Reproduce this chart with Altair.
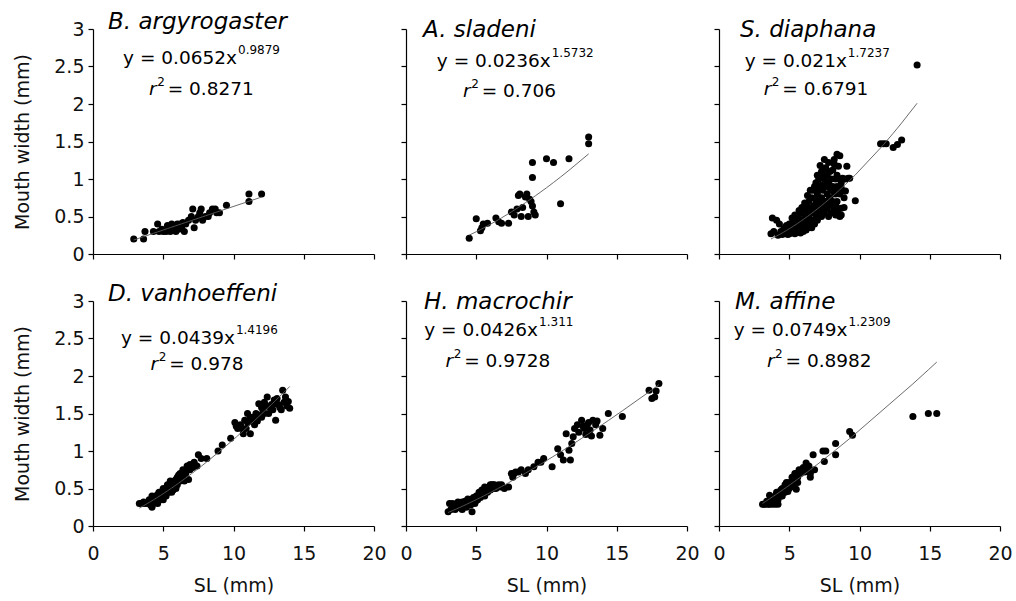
import altair as alt
import pandas as pd

# ---------------- data ----------------
SPECIES = ["B. argyrogaster", "A. sladeni", "S. diaphana",
           "D. vanhoeffeni", "H. macrochir", "M. affine"]
COEF_A = ["0.0652", "0.0236", "0.021", "0.0439", "0.0426", "0.0749"]
COEF_B = ["0.9879", "1.5732", "1.7237", "1.4196", "1.311", "1.2309"]
R2 = ["0.8271", "0.706", "0.6791", "0.978", "0.9728", "0.8982"]

X_TICKS = [0, 5, 10, 15, 20]
Y_TICKS = [0, 0.5, 1, 1.5, 2, 2.5, 3]

# (SL mm, mouth width mm)
PTS_ARGYRO = [(2.9,0.20),(3.6,0.20),(3.7,0.30),(4.3,0.30),(4.6,0.40),(4.7,0.30),(5.0,0.30),
              (5.2,0.30),(5.4,0.35),(5.5,0.30),(5.6,0.40),(5.8,0.35),(5.9,0.30),(6.0,0.40),
              (6.2,0.40),(6.3,0.35),(6.5,0.30),(6.6,0.40),(6.8,0.45),(7.0,0.50),(7.1,0.60),
              (7.2,0.35),(7.3,0.45),(7.5,0.50),(7.7,0.60),(7.8,0.45),(8.0,0.50),(8.2,0.50),
              (8.3,0.55),(8.5,0.60),(8.7,0.60),(8.8,0.55),(9.0,0.55),(9.5,0.65),(11.1,0.70),
              (11.1,0.80),(12.0,0.80),(4.9,0.33),(5.3,0.38),(6.1,0.33),(6.4,0.42),(7.6,0.55)]

PTS_SLADENI = [(4.5,0.21),(5.0,0.47),(5.3,0.31),(5.4,0.35),(5.5,0.40),(5.8,0.41),(6.4,0.48),
               (6.6,0.43),(6.8,0.41),(7.3,0.41),(7.5,0.56),(7.7,0.52),(7.9,0.60),(8.0,0.78),
               (8.1,0.80),(8.2,0.50),(8.3,0.62),(8.5,0.76),(8.6,0.80),(8.7,0.50),(8.8,0.73),
               (8.9,0.70),(9.0,0.64),(9.1,0.56),(9.0,1.02),(9.0,1.22),(9.2,0.52),(10.0,1.27),
               (10.5,1.22),(11.0,0.67),(11.6,1.27),(13.0,1.47),(13.0,1.56)]

PTS_DIAPHANA = [(3.7,0.27),(3.8,0.48),(3.9,0.30),(4.1,0.45),(4.2,0.25),(4.3,0.40),(4.4,0.30),
                (4.5,0.26),(4.6,0.28),(4.7,0.35),(4.8,0.30),(4.9,0.26),(5.0,0.32),(5.0,0.40),
                (5.1,0.28),(5.2,0.35),(5.3,0.42),(5.3,0.30),(5.4,0.38),(5.5,0.45),(5.5,0.30),
                (5.6,0.33),(5.6,0.50),(5.7,0.40),(5.8,0.35),(5.8,0.55),(5.9,0.45),(6.0,0.30),
                (6.0,0.60),(6.1,0.38),(6.1,0.50),(6.2,0.42),(6.2,0.65),(6.3,0.35),(6.3,0.55),
                (6.4,0.48),(6.4,0.70),(6.5,0.40),(6.5,0.60),(6.6,0.45),(6.6,0.75),(6.7,0.55),
                (6.7,0.85),(6.8,0.40),(6.8,0.65),(6.9,0.50),(6.9,0.95),(7.0,0.70),(7.0,0.45),
                (7.0,0.80),(7.1,0.60),(7.1,1.00),(7.2,0.55),(7.2,0.90),(7.3,0.50),(7.3,0.75),
                (7.3,1.10),(7.4,0.65),(7.4,0.85),(7.5,0.55),(7.5,1.00),(7.5,1.26),(7.5,1.13),
                (7.6,0.70),(7.6,0.90),(7.7,0.60),(7.7,0.80),(7.7,1.05),(7.8,0.50),(7.8,0.95),
                (7.9,0.65),(7.9,0.75),(7.9,1.10),(8.0,0.55),(8.0,0.85),(8.0,1.00),(8.1,0.70),
                (8.1,0.90),(8.2,0.60),(8.2,1.20),(8.2,1.26),(8.3,0.80),(8.3,1.00),(8.3,0.52),
                (8.4,0.70),(8.4,0.90),(8.4,1.33),(8.5,0.60),(8.5,1.17),(8.6,0.80),(8.6,1.00),
                (8.6,0.50),(8.6,1.31),(8.7,0.88),(8.7,0.52),(8.7,0.61),(8.8,1.01),(8.9,0.75),
                (9.0,0.84),(9.0,1.00),(9.1,1.17),(9.2,1.01),(9.3,1.01),(9.7,0.71),(11.5,1.47),
                (11.7,1.47),(11.9,1.47),(12.4,1.42),(12.7,1.46),(13.0,1.52),(14.1,2.52),
                (5.2,0.48),(5.4,0.52),(5.6,0.42),(5.7,0.58),(5.9,0.36),(5.9,0.62),(6.0,0.45),
                (6.1,0.68),(6.2,0.32),(6.3,0.78),(6.4,0.58),(6.5,0.85),(6.6,0.62),(6.7,0.40),
                (6.8,0.90),(6.9,0.72),(7.0,1.05),(7.0,0.58),(7.1,0.85),(7.2,0.68),(7.2,1.18),
                (7.3,0.92),(7.4,0.58),(7.4,1.05),(7.6,0.62),(7.6,1.15),(7.7,0.95),(7.8,0.72),
                (7.8,1.22),(7.9,0.88),(8.0,0.65),(8.1,1.12),(8.2,0.82),(8.3,0.65),(8.4,1.05),
                (8.5,0.85),(8.7,0.95),(8.9,0.62),(8.5,0.52),(4.8,0.38),(5.0,0.27),(4.6,0.33),
                (5.4,0.27),(5.8,0.28),(6.6,0.35)]

PTS_VANHOEF = [(3.3,0.30),(3.5,0.30),(3.7,0.30),(3.9,0.30),(4.0,0.35),(4.2,0.25),(4.2,0.40),
               (4.3,0.30),(4.4,0.35),(4.5,0.40),(4.6,0.30),(4.7,0.45),(4.8,0.35),(4.9,0.40),
               (5.0,0.50),(5.0,0.35),(5.1,0.45),(5.2,0.40),(5.3,0.55),(5.4,0.45),(5.5,0.50),
               (5.5,0.60),(5.6,0.45),(5.7,0.55),(5.8,0.60),(5.9,0.50),(6.0,0.65),(6.0,0.55),
               (6.1,0.60),(6.2,0.70),(6.3,0.65),(6.4,0.75),(6.5,0.60),(6.6,0.70),(6.7,0.80),
               (6.8,0.62),(6.9,0.75),(7.0,0.80),(7.2,0.85),(7.4,0.80),(7.5,0.95),(7.7,0.90),
               (8.1,0.90),(8.9,1.00),(9.2,1.08),(9.8,1.17),(10.1,1.38),(10.3,1.30),(10.5,1.35),
               (10.7,1.23),(10.8,1.41),(10.9,1.30),(11.0,1.50),(11.2,1.23),(11.3,1.40),
               (11.5,1.35),(11.6,1.50),(11.8,1.48),(11.8,1.63),(12.0,1.45),(12.1,1.55),
               (12.3,1.60),(12.4,1.72),(12.5,1.50),(12.7,1.62),(12.8,1.55),(13.0,1.63),
               (13.0,1.41),(13.1,1.70),(13.3,1.58),(13.5,1.81),(13.6,1.65),(13.9,1.66),(14.0,1.57),
               (3.6,0.32),(4.1,0.28),(4.5,0.33),(4.6,0.42),(4.8,0.45),(5.0,0.42),(5.2,0.50),
               (5.3,0.45),(5.6,0.55),(5.7,0.48),(5.9,0.62),(6.1,0.68),(6.2,0.60),(6.4,0.66),
               (6.5,0.72),(6.9,0.82),(7.1,0.78),(10.2,1.33),(10.6,1.30),(11.0,1.38),(11.4,1.45),
               (11.7,1.40),(12.0,1.58),(12.2,1.50),(12.6,1.58),(12.9,1.68),(13.2,1.62),
               (13.4,1.55),(13.7,1.72),(13.8,1.60),(12.2,1.65),(11.2,1.45)]

PTS_MACRO = [(3.0,0.19),(3.1,0.30),(3.2,0.22),(3.3,0.25),(3.4,0.28),(3.5,0.22),(3.6,0.30),
             (3.7,0.25),(3.8,0.26),(3.9,0.30),(4.0,0.22),(4.1,0.28),(4.2,0.33),(4.3,0.25),
             (4.4,0.30),(4.5,0.35),(4.6,0.28),(4.7,0.19),(4.7,0.33),(4.8,0.38),(4.9,0.30),
             (5.0,0.40),(5.1,0.35),(5.2,0.45),(5.3,0.38),(5.4,0.42),(5.5,0.48),(5.6,0.40),
             (5.7,0.50),(5.8,0.45),(5.9,0.52),(6.0,0.48),(6.1,0.55),(6.2,0.50),(6.3,0.55),
             (6.5,0.52),(6.6,0.55),(6.8,0.55),(7.0,0.50),(7.3,0.52),(7.5,0.70),(7.6,0.65),
             (7.8,0.72),(8.2,0.75),(8.5,0.70),(8.7,0.75),(9.1,0.79),(9.4,0.85),(9.8,0.90),
             (10.4,0.79),(10.8,1.03),(11.0,0.95),(11.2,0.88),(11.4,1.23),(11.6,1.01),
             (11.7,0.88),(11.9,1.19),(12.0,1.30),(12.3,1.25),(12.5,1.41),(12.7,1.30),
             (12.9,1.35),(13.1,1.28),(13.3,1.41),(13.5,1.35),(13.8,1.21),(14.0,1.30),
             (14.4,1.50),(15.4,1.46),(17.3,1.81),(17.5,1.70),(17.7,1.72),(17.8,1.80),(18.0,1.90),
             (3.3,0.30),(3.5,0.26),(3.7,0.32),(3.9,0.24),(4.0,0.32),(4.2,0.27),(4.4,0.36),
             (4.5,0.29),(4.8,0.33),(5.0,0.34),(5.2,0.40),(5.4,0.48),(5.5,0.42),(5.6,0.52),
             (5.8,0.50),(6.0,0.55),(6.2,0.55),(6.4,0.50),(6.7,0.52),(7.7,0.70),(8.0,0.72),
             (9.6,0.85),(11.8,1.10),(12.2,1.35),(12.6,1.33),(12.8,1.22),(13.0,1.38),
             (13.2,1.20),(13.6,1.40)]

PTS_AFFINE = [(3.1,0.29),(3.3,0.29),(3.5,0.29),(3.6,0.41),(3.7,0.33),(3.8,0.29),(3.9,0.38),
              (4.0,0.29),(4.1,0.45),(4.2,0.35),(4.3,0.44),(4.4,0.40),(4.5,0.50),(4.6,0.45),
              (4.7,0.55),(4.8,0.50),(4.9,0.46),(5.0,0.58),(5.1,0.52),(5.2,0.65),(5.3,0.55),
              (5.4,0.62),(5.5,0.49),(5.5,0.70),(5.6,0.65),(5.7,0.75),(5.8,0.70),(6.0,0.78),
              (6.2,0.84),(6.3,0.75),(6.5,0.70),(6.7,0.95),(6.8,0.75),(7.4,1.00),(7.5,0.86),
              (7.6,1.00),(8.3,1.10),(8.3,0.95),(9.3,1.26),(9.5,1.21),(13.8,1.46),(14.9,1.50),
              (15.5,1.50),(3.2,0.29),(3.4,0.33),(3.6,0.29),(3.8,0.35),(4.0,0.40),(4.2,0.29),
              (4.4,0.48),(4.5,0.40),(4.7,0.45),(4.8,0.58),(5.0,0.50),(5.2,0.55),(5.4,0.70),
              (5.6,0.58),(5.9,0.75),(6.1,0.72),(6.4,0.80),(6.5,0.65)]

ALL_PTS = [PTS_ARGYRO, PTS_SLADENI, PTS_DIAPHANA, PTS_VANHOEF, PTS_MACRO, PTS_AFFINE]

# ---------------- layout / style (annotation anchors in data units) ----------------
EQ_X = [10.25, 10.3, 9.1, 10.1, 9.4, 9.15]     # right end of "y = ax"
EQ_Y = [2.53, 2.49, 2.49, 2.43, 2.54, 2.54]    # baseline
R_X = [4.53, 4.6, 3.72, 4.64, 3.36, 3.95]      # right end of italic r
R_Y = [2.12, 2.10, 2.12, 2.08, 2.12, 2.12]
TITLE_DX = [15, 17, 21, 15, 18, 16]

FONT = "DejaVu Sans"
W, H = 281, 225


def panel(i):
    row, col = divmod(i, 3)
    bottom = row == 1
    left = col == 0
    df = pd.DataFrame(ALL_PTS[i], columns=["SL", "MW"])

    xscale = alt.Scale(domain=[0, 20], nice=False, zero=False)
    yscale = alt.Scale(domain=[0, 3], nice=False, zero=False)
    xaxis = alt.Axis(values=X_TICKS, labels=bottom, title="SL (mm)" if bottom else None,
                     format="d", labelFlush=False, labelOverlap=False, labelPadding=13,
                     titlePadding=13)
    yaxis = alt.Axis(values=Y_TICKS, labels=left, title="Mouth width (mm)" if left else None,
                     format=".1~f", labelFlush=False, labelOverlap=False, labelPadding=4,
                     titlePadding=21)

    def X(f):
        return alt.X(f, scale=xscale, axis=xaxis, title="SL (mm)" if bottom else None)

    def Y(f):
        return alt.Y(f, scale=yscale, axis=yaxis, title="Mouth width (mm)" if left else None)

    base = alt.Chart(df)
    pts = base.mark_circle(size=50, color="black", opacity=1).encode(
        x=X("SL:Q"), y=Y("MW:Q"),
    )
    a, b = COEF_A[i], COEF_B[i]
    fit = base.transform_calculate(fit=f"{a}*pow(datum.SL,{b})").mark_line(
        color="#5a5a5a", strokeWidth=0.9
    ).encode(x=X("SL:Q"), y=Y("fit:Q"), order="SL:Q")

    def txt(xv, yv, s, **kw):
        d = pd.DataFrame({"x": [xv], "y": [yv], "t": [s]})
        return alt.Chart(d).mark_text(baseline="alphabetic", font=FONT, color="black", **kw).encode(
            x=X("x:Q"), y=Y("y:Q"), text="t:N",
        )

    eq1 = txt(EQ_X[i], EQ_Y[i], f"y = {a}x", align="right", fontSize=18.5)
    eq2 = txt(EQ_X[i], EQ_Y[i], b, align="left", fontSize=12, dx=1, dy=-10)
    r1 = txt(R_X[i], R_Y[i], "r", align="right", fontSize=18.5, fontStyle="italic")
    r2 = txt(R_X[i], R_Y[i], "2", align="left", fontSize=12, dx=0.5, dy=-9)
    r3 = txt(R_X[i], R_Y[i], f"= {R2[i]}", align="left", fontSize=18.5, dx=11)

    return alt.layer(pts, fit, eq1, eq2, r1, r2, r3).properties(
        width=W, height=H,
        title=alt.TitleParams(
            text=SPECIES[i], anchor="start", frame="group", dx=TITLE_DX[i], offset=-32,
            baseline="alphabetic", font=FONT, fontStyle="italic", fontSize=23,
            fontWeight="normal", color="black",
        ),
    )


chart = alt.concat(
    *[panel(i) for i in range(6)], columns=3,
    spacing=alt.RowColnumber(row=47, column=32), bounds="flush",
).properties(
    padding={"left": 13, "top": 11, "right": 2, "bottom": 2},
).configure_view(stroke=None).configure_axis(
    grid=False, domainColor="black", domainWidth=1.2, tickColor="black", tickWidth=1.2,
    tickSize=5, labelFont=FONT, labelFontSize=19, labelColor="#111111",
    titleFont=FONT, titleFontSize=19, titleFontWeight="normal", titleColor="#111111",
)

chart.save("out.html", embed_options={"renderer": "svg", "actions": False})
